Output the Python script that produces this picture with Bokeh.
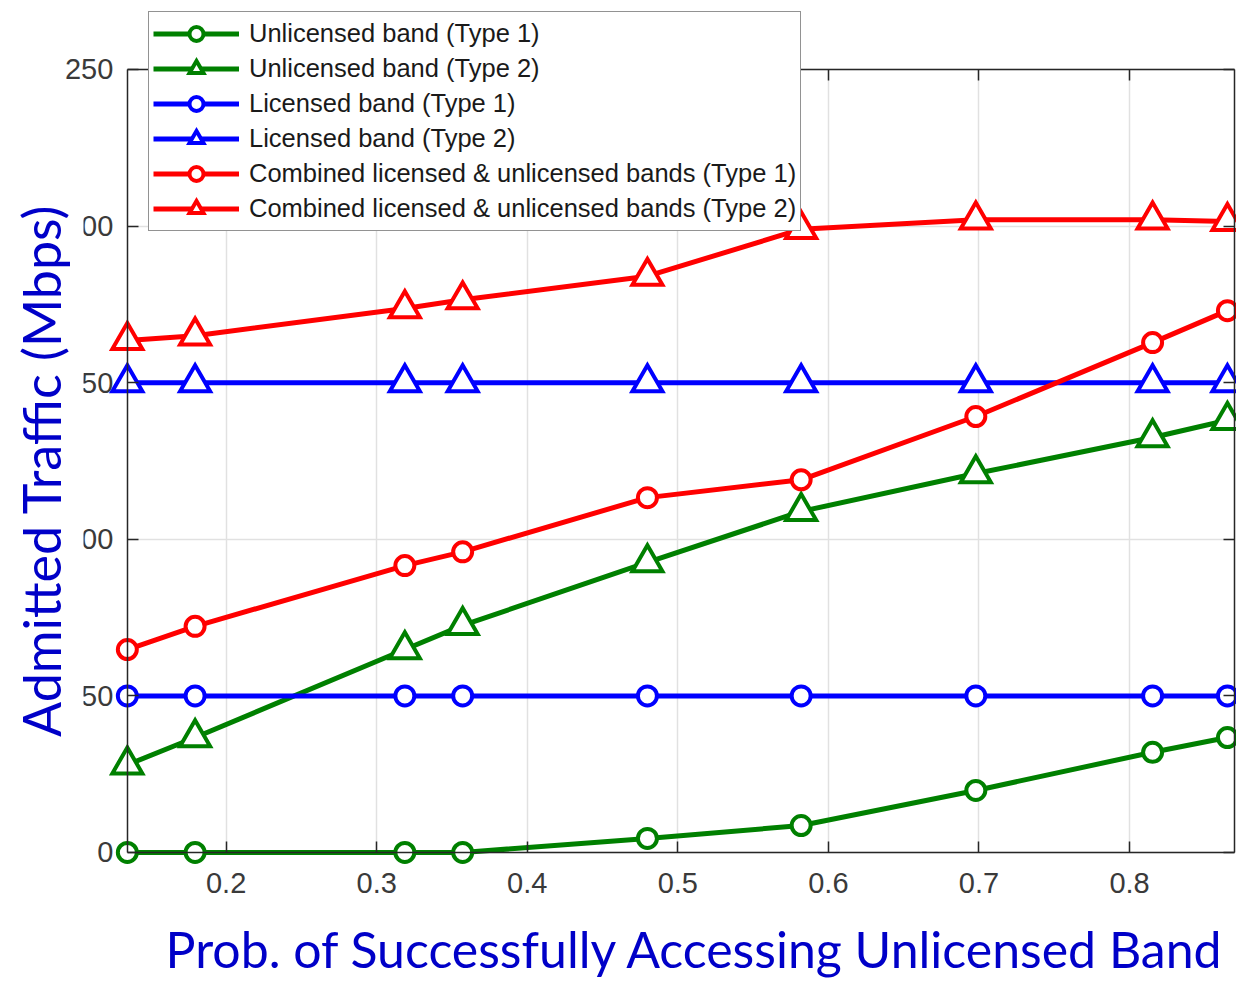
from math import pi
from bokeh.plotting import figure
from bokeh.models import Range1d, FixedTicker, LinearAxis, Legend, LegendItem, Label, Grid
from bokeh.embed import file_html
from bokeh.resources import INLINE

# ---------------- data ----------------
x_prob = [0.1344, 0.1794, 0.3187, 0.3571, 0.4798, 0.5819, 0.6979, 0.8153, 0.8650]
unlic_t1 = [0.0, 0.0, 0.0, 0.0, 4.5, 8.6, 19.8, 32.0, 36.7]
unlic_t2 = [28.0, 36.7, 64.8, 72.5, 92.6, 108.9, 121.0, 132.5, 138.0]
lic_t1 = [50, 50, 50, 50, 50, 50, 50, 50, 50]
lic_t2 = [150, 150, 150, 150, 150, 150, 150, 150, 150]
comb_t1 = [64.8, 72.2, 91.6, 96.0, 113.3, 119.0, 139.2, 162.8, 173.0]
comb_t2 = [163.5, 165.0, 173.7, 176.5, 184.0, 199.0, 202.0, 202.0, 201.5]

series_names = [
    "Unlicensed band (Type 1)",
    "Unlicensed band (Type 2)",
    "Licensed band (Type 1)",
    "Licensed band (Type 2)",
    "Combined licensed & unlicensed bands (Type 1)",
    "Combined licensed & unlicensed bands (Type 2)",
]
series_values = [unlic_t1, unlic_t2, lic_t1, lic_t2, comb_t1, comb_t2]
series_colors = ["#008000", "#008000", "#0000FF", "#0000FF", "#FF0000", "#FF0000"]
series_markers = ["circle", "triangle", "circle", "triangle", "circle", "triangle"]

x_ticks = [0.2, 0.3, 0.4, 0.5, 0.6, 0.7, 0.8]
y_ticks = [0, 50, 100, 150, 200, 250]
x_lo, x_hi = 0.1344, 0.8700
y_lo, y_hi = 0, 250

x_label = "Prob. of Successfully Accessing Unlicensed Band"
y_label = "Admitted Traffic (Mbps)"

# ---------------- figure ----------------
W, H = 1236, 982
AX = "#262626"
p = figure(width=W, height=H,
           x_range=Range1d(0.05016, 0.87103), y_range=Range1d(-41.51, 272.03),
           output_backend="svg", toolbar_location=None,
           min_border_left=0, min_border_right=0, min_border_top=0, min_border_bottom=0)
p.outline_line_color = None
p.background_fill_color = "white"
p.border_fill_color = "white"

xt = FixedTicker(ticks=x_ticks)
yt = FixedTicker(ticks=y_ticks)

bx = p.xaxis[0]
ly = p.yaxis[0]
bx.ticker = xt
ly.ticker = yt
bx.fixed_location = y_lo
bx.bounds = (x_lo, x_hi)
ly.fixed_location = x_lo
ly.bounds = (y_lo, y_hi)

top = LinearAxis(ticker=xt, fixed_location=y_hi, bounds=(x_lo, x_hi),
                 major_label_overrides={t: "" for t in x_ticks})
p.add_layout(top, "above")
right = LinearAxis(ticker=yt, fixed_location=x_hi, bounds=(y_lo, y_hi),
                   major_label_overrides={t: "" for t in y_ticks})
p.add_layout(right, "right")

for ax in (bx, ly, top, right):
    ax.axis_line_color = AX
    ax.axis_line_width = 1.5
    ax.major_tick_line_color = AX
    ax.major_tick_line_width = 1.5
    ax.major_tick_in = 11
    ax.major_tick_out = 0
    ax.minor_tick_line_color = None
    ax.major_label_text_font = "Liberation Sans"
    ax.major_label_text_font_size = "29px"
    ax.major_label_text_color = "#3a3a3a"
bx.major_label_standoff = 21
ly.major_label_standoff = 14

p.xgrid.ticker = xt
p.ygrid.ticker = yt
for g in (p.xgrid[0], p.ygrid[0]):
    g.grid_line_color = "#e1e1e1"
    g.grid_line_width = 1.5
if "cross_bounds" in Grid.properties():
    try:
        p.xgrid[0].cross_bounds = (y_lo, y_hi)
        p.ygrid[0].cross_bounds = (x_lo, x_hi)
    except Exception:
        pass

# ---------------- series ----------------
items = []
for name, vals, col, mk in zip(series_names, series_values, series_colors, series_markers):
    r1 = p.line(x_prob, vals, line_color=col, line_width=5)
    if mk == "circle":
        r2 = p.scatter(x_prob, vals, marker="circle", size=19, line_color=col,
                       line_width=4, fill_color="white")
    else:
        r2 = p.scatter(x_prob, vals, marker="triangle", size=30, line_color=col,
                       line_width=4, fill_color="white", line_join="miter")
    items.append(LegendItem(label=name, renderers=[r1, r2]))

legend = Legend(items=items, location=(148, H - 231))
legend.glyph_width = 86
legend.glyph_height = 35
legend.spacing = 0
legend.label_standoff = 10
legend.padding = 4
legend.margin = 0
legend.label_text_font = "Liberation Sans"
legend.label_text_font_size = "25.5px"
legend.label_text_color = "#1a1a1a"
legend.border_line_color = AX
legend.border_line_width = 1.5
legend.background_fill_color = "white"
legend.background_fill_alpha = 1.0
p.add_layout(legend)

# ---------------- axis titles ----------------
xl = Label(x=695, y=H - 948, x_units="screen", y_units="screen", text=x_label,
           text_align="center", text_baseline="middle",
           text_font="Lato", text_font_size="50px", text_color="#0000C8")
p.add_layout(xl)

yl = Label(x=44, y=H - 470, x_units="screen", y_units="screen", text=y_label, angle=pi / 2,
           text_align="center", text_baseline="middle",
           text_font="Lato", text_font_size="52px", text_color="#0000C8",
           background_fill_color="white", background_fill_alpha=1.0)
try:
    yl.padding = dict(left=6, right=6, top=4, bottom=12)
except Exception:
    try:
        yl.padding = 6
    except Exception:
        pass
p.add_layout(yl)

open("out.html", "w").write(file_html(p, INLINE))
